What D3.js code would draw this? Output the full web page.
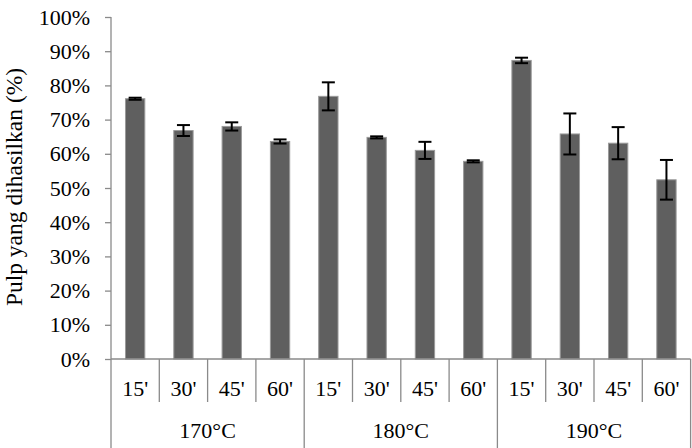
<!DOCTYPE html>
<html>
<head>
<meta charset="utf-8">
<script src="https://cdn.jsdelivr.net/npm/d3@7"></script>
<style>
  html, body { margin: 0; padding: 0; background: #fff; }
  svg { display: block; }
</style>
</head>
<body>
<svg id="chart" width="692" height="448"></svg>
<script>
const times = ["15'", "30'", "45'", "60'"];
const groups = ["170°C", "180°C", "190°C"];
const values = [76.1, 66.8, 68.0, 63.6, 76.8, 64.8, 61.0, 57.8, 87.3, 65.8, 63.1, 52.4];
const errors = [0.3, 1.6, 1.2, 0.6, 4.1, 0.3, 2.5, 0.3, 0.8, 6.0, 4.7, 5.8];
const yTickValues = [0, 10, 20, 30, 40, 50, 60, 70, 80, 90, 100];
const yLabel = "Pulp yang dihasilkan (%)";

(function () {
const FONT = "'Liberation Serif', 'Times New Roman', Tinos, 'DejaVu Serif', serif";
const categories = [];
groups.forEach(g => times.forEach(t => categories.push({ group: g, time: t })));
const data = categories.map((c, i) => ({ ...c, i, value: values[i], err: errors[i] }));

const svg = d3.select("#chart").attr("font-family", FONT).style("font-family", FONT);
const mLeft = 111, mRight = 690.6, mTop = 17, mBottom = 359, H = 448;
const axisColor = "#8a8a8a";
const fontSize = 22;

const x = d3.scaleBand().domain(d3.range(data.length)).range([mLeft, mRight]).padding(0);
const xg = d3.scaleBand().domain(groups).range([mLeft, mRight]).padding(0);
const y = d3.scaleLinear().domain([0, 100]).range([mBottom, mTop]);

// Y axis
const yAxis = d3.axisLeft(y).tickValues(yTickValues).tickSize(6).tickPadding(15)
  .tickFormat(d => d + "%");
const gy = svg.append("g").attr("transform", `translate(${mLeft},0)`).call(yAxis)
  .attr("font-family", FONT).attr("font-size", fontSize);
gy.select(".domain").remove();
gy.selectAll(".tick line").attr("stroke", axisColor).attr("stroke-width", 1.3);
gy.selectAll(".tick text").attr("fill", "#000").style("font-family", FONT).style("font-size", fontSize + "px");
svg.append("line").attr("x1", mLeft).attr("x2", mLeft).attr("y1", y(100)).attr("y2", H)
  .attr("stroke", axisColor).attr("stroke-width", 1.3);

// Bars
const barW = x.bandwidth() * 0.4;
svg.append("g").selectAll("rect").data(data).join("rect")
  .attr("x", d => x(d.i) + (x.bandwidth() - barW) / 2)
  .attr("y", d => y(d.value))
  .attr("width", barW)
  .attr("height", d => y(0) - y(d.value))
  .attr("fill", "#5f5f5f")
  .attr("stroke", "#9a9a9a")
  .attr("stroke-width", 1);

// Error bars
const cap = 13;
const eg = svg.append("g").attr("stroke", "#000").attr("stroke-width", 2);
data.forEach(d => {
  const cx = x(d.i) + x.bandwidth() / 2;
  const y1 = y(d.value + d.err), y2 = y(d.value - d.err);
  eg.append("line").attr("x1", cx).attr("x2", cx).attr("y1", y1).attr("y2", y2);
  eg.append("line").attr("x1", cx - cap / 2).attr("x2", cx + cap / 2).attr("y1", y1).attr("y2", y1);
  eg.append("line").attr("x1", cx - cap / 2).attr("x2", cx + cap / 2).attr("y1", y2).attr("y2", y2);
});

// X axis baseline
svg.append("line").attr("x1", mLeft).attr("x2", mRight).attr("y1", mBottom).attr("y2", mBottom)
  .attr("stroke", axisColor).attr("stroke-width", 1.3);

// Minor dividers & labels
const minorBottom = 402;
svg.append("g").selectAll("line").data(data.slice(1)).join("line")
  .attr("x1", d => x(d.i)).attr("x2", d => x(d.i))
  .attr("y1", mBottom).attr("y2", d => (d.i % times.length === 0) ? H : minorBottom)
  .attr("stroke", axisColor).attr("stroke-width", 1.3);
svg.append("line").attr("x1", mRight).attr("x2", mRight).attr("y1", mBottom).attr("y2", H)
  .attr("stroke", axisColor).attr("stroke-width", 1.3);

svg.append("g").selectAll("text").data(data).join("text")
  .attr("x", d => x(d.i) + x.bandwidth() / 2)
  .attr("y", 396)
  .attr("text-anchor", "middle")
  .style("font-family", FONT)
  .style("font-size", fontSize + "px")
  .text(d => d.time);

svg.append("g").selectAll("text").data(groups).join("text")
  .attr("x", d => xg(d) + xg.bandwidth() / 2)
  .attr("y", 438)
  .attr("text-anchor", "middle")
  .style("font-family", FONT)
  .style("font-size", fontSize + "px")
  .text(d => d);

// Y label
svg.append("text")
  .attr("transform", `translate(22,187) rotate(-90)`)
  .attr("text-anchor", "middle")
  .style("font-family", FONT)
  .style("font-size", "23.5px")
  .text(yLabel);
})();
</script>
</body>
</html>
